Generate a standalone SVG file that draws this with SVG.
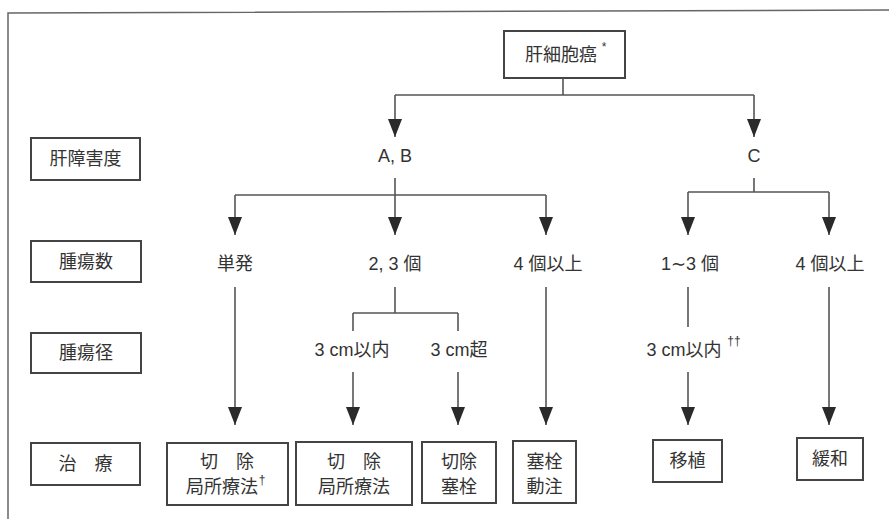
<svg xmlns="http://www.w3.org/2000/svg" width="889" height="519" viewBox="0 0 889 519">
<defs>
<marker id="ah" viewBox="0 0 18 14" refX="18" refY="7" markerWidth="18" markerHeight="14" markerUnits="userSpaceOnUse" orient="auto">
<path d="M0,0 L18,7 L0,14 Z" fill="#2a2a2a"/>
</marker>
</defs>
<style>
text{font-family:"Liberation Sans","Noto Sans CJK JP",sans-serif;fill:#333;font-size:18px;text-anchor:middle;dominant-baseline:central}
.box{fill:#fff;stroke:#444;stroke-width:2}
.ln{stroke:#555;stroke-width:1.6;fill:none}
.arr{stroke:#555;stroke-width:1.6;fill:none;marker-end:url(#ah)}
.sup{font-size:12px}
</style>
<rect width="889" height="519" fill="#fff"/>
<path d="M8,519 L8,13 L889,10" fill="none" stroke="#666" stroke-width="1.5"/>

<g id="row-labels">
<g id="lbl-liver"><rect class="box" x="31" y="138" width="109" height="42"/><text x="85.5" y="159">肝障害度</text></g>
<g id="lbl-count"><rect class="box" x="31" y="241" width="110" height="41"/><text x="86" y="261.5">腫瘍数</text></g>
<g id="lbl-size"><rect class="box" x="31" y="333" width="110" height="40"/><text x="86" y="353">腫瘍径</text></g>
<g id="lbl-treat"><rect class="box" x="31" y="443" width="109" height="42"/><text x="85.5" y="464">治　療</text></g>
</g>

<g id="root"><rect class="box" x="504" y="31" width="121" height="47"/><text x="561" y="54.5">肝細胞癌</text><text class="sup" x="604" y="47">*</text></g>

<g id="n-ab"><text x="395" y="156">A, B</text></g>
<g id="n-c"><text x="754" y="156">C</text></g>

<g id="n-single"><text x="235" y="264">単発</text></g>
<g id="n-23"><text x="395" y="264">2, 3 個</text></g>
<g id="n-4plus-ab"><text x="548" y="264">4 個以上</text></g>
<g id="n-13"><text x="690" y="264">1∼3 個</text></g>
<g id="n-4plus-c"><text x="830" y="264">4 個以上</text></g>

<g id="n-le3"><text x="352" y="350">3 cm以内</text></g>
<g id="n-gt3"><text x="459" y="350">3 cm超</text></g>
<g id="n-le3c"><text x="684" y="350">3 cm以内</text><text class="sup" x="734" y="341">††</text></g>

<g id="t-1"><rect class="box" x="167" y="443" width="121" height="62"/><text x="227" y="462">切　除</text><text x="222" y="487">局所療法</text><text class="sup" x="262" y="480">†</text></g>
<g id="t-2"><rect class="box" x="296" y="442" width="116" height="63"/><text x="354" y="462">切　除</text><text x="354" y="487">局所療法</text></g>
<g id="t-3"><rect class="box" x="422" y="442" width="74" height="61"/><text x="459" y="462">切除</text><text x="459" y="487">塞栓</text></g>
<g id="t-4"><rect class="box" x="513" y="441" width="63" height="62"/><text x="544.5" y="462">塞栓</text><text x="544.5" y="487">動注</text></g>
<g id="t-5"><rect class="box" x="653" y="440" width="69" height="42"/><text x="687.5" y="461">移植</text></g>
<g id="t-6"><rect class="box" x="797" y="438" width="66" height="42"/><text x="830" y="459">緩和</text></g>

<g id="connectors">
<path class="ln" d="M563,78 V95 M395,95 H754"/>
<path class="arr" d="M395,95 V137"/>
<path class="arr" d="M754,95 V137"/>
<path class="ln" d="M395,178 V195 M235,195 H546 M754,178 V192 M688,192 H829"/>
<path class="arr" d="M235,195 V235"/>
<path class="arr" d="M395,195 V235"/>
<path class="arr" d="M546,195 V235"/>
<path class="arr" d="M688,192 V235"/>
<path class="arr" d="M829,192 V235"/>
<path class="arr" d="M235,287 V425"/>
<path class="ln" d="M395,287 V313 M353,313 H458 M353,313 V331 M458,313 V331 M688,287 V327"/>
<path class="arr" d="M353,372 V425"/>
<path class="arr" d="M458,372 V425"/>
<path class="arr" d="M546,287 V425"/>
<path class="arr" d="M688,372 V425"/>
<path class="arr" d="M829,287 V425"/>
</g>
</svg>
